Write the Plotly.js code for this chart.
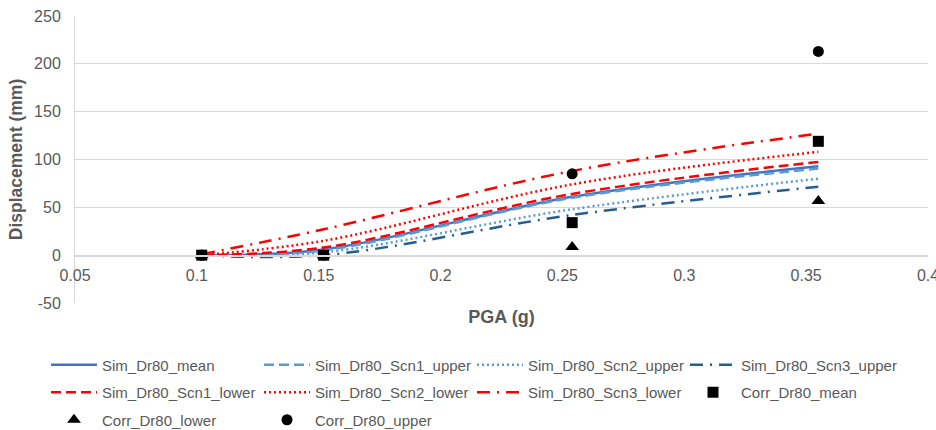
<!DOCTYPE html>
<html>
<head>
<meta charset="utf-8">
<script src="https://cdn.plot.ly/plotly-3.0.1.min.js"></script>
<style>
  html, body { margin: 0; padding: 0; background: #fff; }
  #chart { width: 936px; height: 430px; }
</style>
</head>
<body>
<div id="chart"></div>
<script>
// PGA levels (g)
const pga = [0.102, 0.152, 0.254, 0.355];

// Simulated displacements (mm)
const simMean      = [0, 6, 61, 93];
const simScn1Upper = [0, 5, 60, 90.5];
const simScn2Upper = [0, 3, 48, 80];
const simScn3Upper = [0, 0, 42, 71.5];
const simScn1Lower = [0, 8, 64, 97.5];
const simScn2Lower = [0, 15, 74, 108];
const simScn3Lower = [1, 27, 88, 127];

// Correlation-based displacements (mm)
const corrMean  = [0, 0, 34, 119];
const corrLower = [0, 0, 8.5, 56.5];
const corrUpper = [0, 0, 85, 213];

const xTicks = [0.05, 0.1, 0.15, 0.2, 0.25, 0.3, 0.35, 0.4];
const xTickText = ['0.05', '0.1', '0.15', '0.2', '0.25', '0.3', '0.35', '0.4'];
const yTicks = [-50, 0, 50, 100, 150, 200, 250];
const yTickText = ['-50', '0', '50', '100', '150', '200', '250'];

const BLUE = '#4472C4', LIGHT = '#5B9BD5', DARK = '#255E91', RED = '#FF0000';
const GREY_TXT = '#595959', GRID = '#d9d9d9';

// Legend grid: 4 columns, entries filled row by row
const LEG_COLS = 4, LEG_X0 = 46, LEG_DX = 213, LEG_Y0 = 365, LEG_DY = 27.5;
let legendCount = 0;
const legendLayouts = {};
const legendFont = { family: 'Liberation Sans, Arial, sans-serif', size: 15, color: GREY_TXT };

function nextLegend() {
  const i = legendCount++;
  const col = i % LEG_COLS, row = Math.floor(i / LEG_COLS);
  const key = i === 0 ? 'legend' : 'legend' + (i + 1);
  legendLayouts[key] = {
    orientation: 'h', xref: 'container', yref: 'container',
    x: (LEG_X0 + col * LEG_DX) / 936, xanchor: 'left',
    y: 1 - (LEG_Y0 + row * LEG_DY) / 430, yanchor: 'middle',
    font: legendFont, itemwidth: 46,
    bgcolor: 'rgba(0,0,0,0)', borderwidth: 0,
    itemclick: false, itemdoubleclick: false
  };
  return key;
}

function simLine(name, y, color, dash) {
  return {
    x: pga, y: y, name: name, type: 'scatter', mode: 'lines',
    line: { color: color, width: 2.5, dash: dash, shape: 'spline', smoothing: 1 },
    legend: nextLegend()
  };
}
function corrPts(name, y, symbol, size) {
  return {
    x: pga, y: y, name: name, type: 'scatter', mode: 'markers',
    marker: { color: '#000', symbol: symbol, size: size },
    legend: nextLegend()
  };
}

const traces = [
  simLine('Sim_Dr80_mean', simMean, BLUE, 'solid'),
  simLine('Sim_Dr80_Scn1_upper', simScn1Upper, LIGHT, '10px,5px'),
  simLine('Sim_Dr80_Scn2_upper', simScn2Upper, LIGHT, '2px,3px'),
  simLine('Sim_Dr80_Scn3_upper', simScn3Upper, DARK, '13px,7px,2px,7px'),
  simLine('Sim_Dr80_Scn1_lower', simScn1Lower, RED, '10px,5px'),
  simLine('Sim_Dr80_Scn2_lower', simScn2Lower, RED, '2px,3px'),
  simLine('Sim_Dr80_Scn3_lower', simScn3Lower, RED, '13px,7px,2px,7px'),
  corrPts('Corr_Dr80_mean', corrMean, 'square', 11),
  corrPts('Corr_Dr80_lower', corrLower, 'triangle-up', 12),
  corrPts('Corr_Dr80_upper', corrUpper, 'circle', 11)
];
// draw the square markers above the others
traces.push(traces.splice(7, 1)[0]);

const layout = Object.assign({
  width: 936, height: 430,
  margin: { l: 75, r: 8, t: 16, b: 127 },
  paper_bgcolor: '#fff', plot_bgcolor: '#fff',
  font: { family: 'Liberation Sans, Arial, sans-serif', color: GREY_TXT },
  showlegend: true,
  xaxis: {
    range: [0.05, 0.4], tickvals: xTicks, ticktext: xTickText,
    anchor: 'free', position: 1 / 6,
    showgrid: false, zeroline: false,
    showline: true, linecolor: GRID, linewidth: 1.5,
    ticks: '', ticklabelstandoff: 5, ticklabeloverflow: 'allow',
    tickfont: { size: 16, color: GREY_TXT },
    title: { text: 'PGA (g)', standoff: 27,
             font: { size: 18, color: GREY_TXT, weight: 'bold' } }
  },
  yaxis: {
    range: [-50, 250], tickvals: yTicks, ticktext: yTickText,
    showgrid: true, gridcolor: GRID, gridwidth: 1,
    zeroline: false,
    showline: true, linecolor: GRID, linewidth: 1,
    ticks: '', ticklabelstandoff: 10,
    tickfont: { size: 16, color: GREY_TXT },
    title: { text: 'Displacement (mm)', standoff: 6,
             font: { size: 17.5, color: GREY_TXT, weight: 'bold' } }
  }
}, legendLayouts);

Plotly.newPlot('chart', traces, layout, { displayModeBar: false, staticPlot: true });
</script>
</body>
</html>
